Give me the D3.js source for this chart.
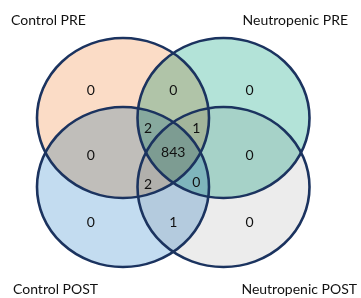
<!DOCTYPE html>
<html>
<head>
<meta charset="utf-8">
<script src="https://cdn.jsdelivr.net/npm/d3@7"></script>
<style>
  body { margin: 0; background: #fff; }
  text { font-family: Lato, "Open Sans", sans-serif; fill: #111; }
</style>
</head>
<body>
<svg></svg>
<script>
const width = 361;
const height = 298;

// sets (A = Control PRE, B = Neutropenic PRE, C = Control POST, D = Neutropenic POST)
const setKeys = ["A", "B", "C", "D"];
const setNames = ["Control PRE", "Neutropenic PRE", "Control POST", "Neutropenic POST"];

// region membership and counts
const regionSets = ["A", "AB", "B", "AC", "ABC", "ABCD", "ABD", "BD", "ACD", "BCD", "C", "CD", "D"];
const regionCounts = [0, 0, 0, 0, 2, 843, 1, 0, 2, 0, 0, 1, 0];

// layout: ellipse grid (col,row) and label spots in grid units
const setCol = {A: 0, B: 1, C: 0, D: 1};
const setRow = {A: 0, B: 0, C: 1, D: 1};
const setFill = {A: "#fbdcc6", B: "#b3e3d8", C: "#c3dcf0", D: "#ececec"};
const labelSpot = {
  A: [-0.32, -0.41], AB: [0.5, -0.41], B: [1.26, -0.41],
  AC: [-0.32, 0.53], ABC: [0.25, 0.14], ABCD: [0.5, 0.49], ABD: [0.73, 0.14], BD: [1.26, 0.53],
  ACD: [0.25, 0.95], BCD: [0.73, 0.93],
  C: [-0.32, 1.5], CD: [0.5, 1.5], D: [1.26, 1.5]
};

const rx = 86, ry = 80;

const x = d3.scaleLinear().domain([0, 1]).range([123, 223.5]);
const y = d3.scaleLinear().domain([0, 1]).range([118, 187]);

const svg = d3.select("svg")
  .attr("width", width)
  .attr("height", height);

const fills = svg.append("g").style("isolation", "isolate");

fills.selectAll("ellipse")
  .data(setKeys)
  .enter()
  .append("ellipse")
    .attr("cx", d => x(setCol[d]))
    .attr("cy", d => y(setRow[d]))
    .attr("rx", rx)
    .attr("ry", ry)
    .attr("fill", d => setFill[d])
    .style("mix-blend-mode", "multiply");

svg.append("g")
  .selectAll("ellipse")
  .data(setKeys)
  .enter()
  .append("ellipse")
    .attr("cx", d => x(setCol[d]))
    .attr("cy", d => y(setRow[d]))
    .attr("rx", rx)
    .attr("ry", ry)
    .attr("fill", "none")
    .attr("stroke", "#1b335f")
    .attr("stroke-width", 2.6);

svg.append("g")
  .selectAll("text")
  .data(regionSets)
  .enter()
  .append("text")
    .attr("x", d => x(labelSpot[d][0]))
    .attr("y", d => y(labelSpot[d][1]))
    .attr("dy", "0.36em")
    .style("font-size", "14px")
    .style("text-anchor", "middle")
    .text((d, i) => regionCounts[i]);

// set titles in the corners
const titlePos = {
  A: {x: 11, y: 25, anchor: "start"},
  B: {x: 348, y: 25, anchor: "end"},
  C: {x: 13, y: 294, anchor: "start"},
  D: {x: 357, y: 294, anchor: "end"}
};

svg.append("g")
  .selectAll("text")
  .data(setKeys)
  .enter()
  .append("text")
    .attr("x", d => titlePos[d].x)
    .attr("y", d => titlePos[d].y)
    .style("font-size", "14px")
    .style("text-anchor", d => titlePos[d].anchor)
    .text((d, i) => setNames[i]);
</script>
</body>
</html>
